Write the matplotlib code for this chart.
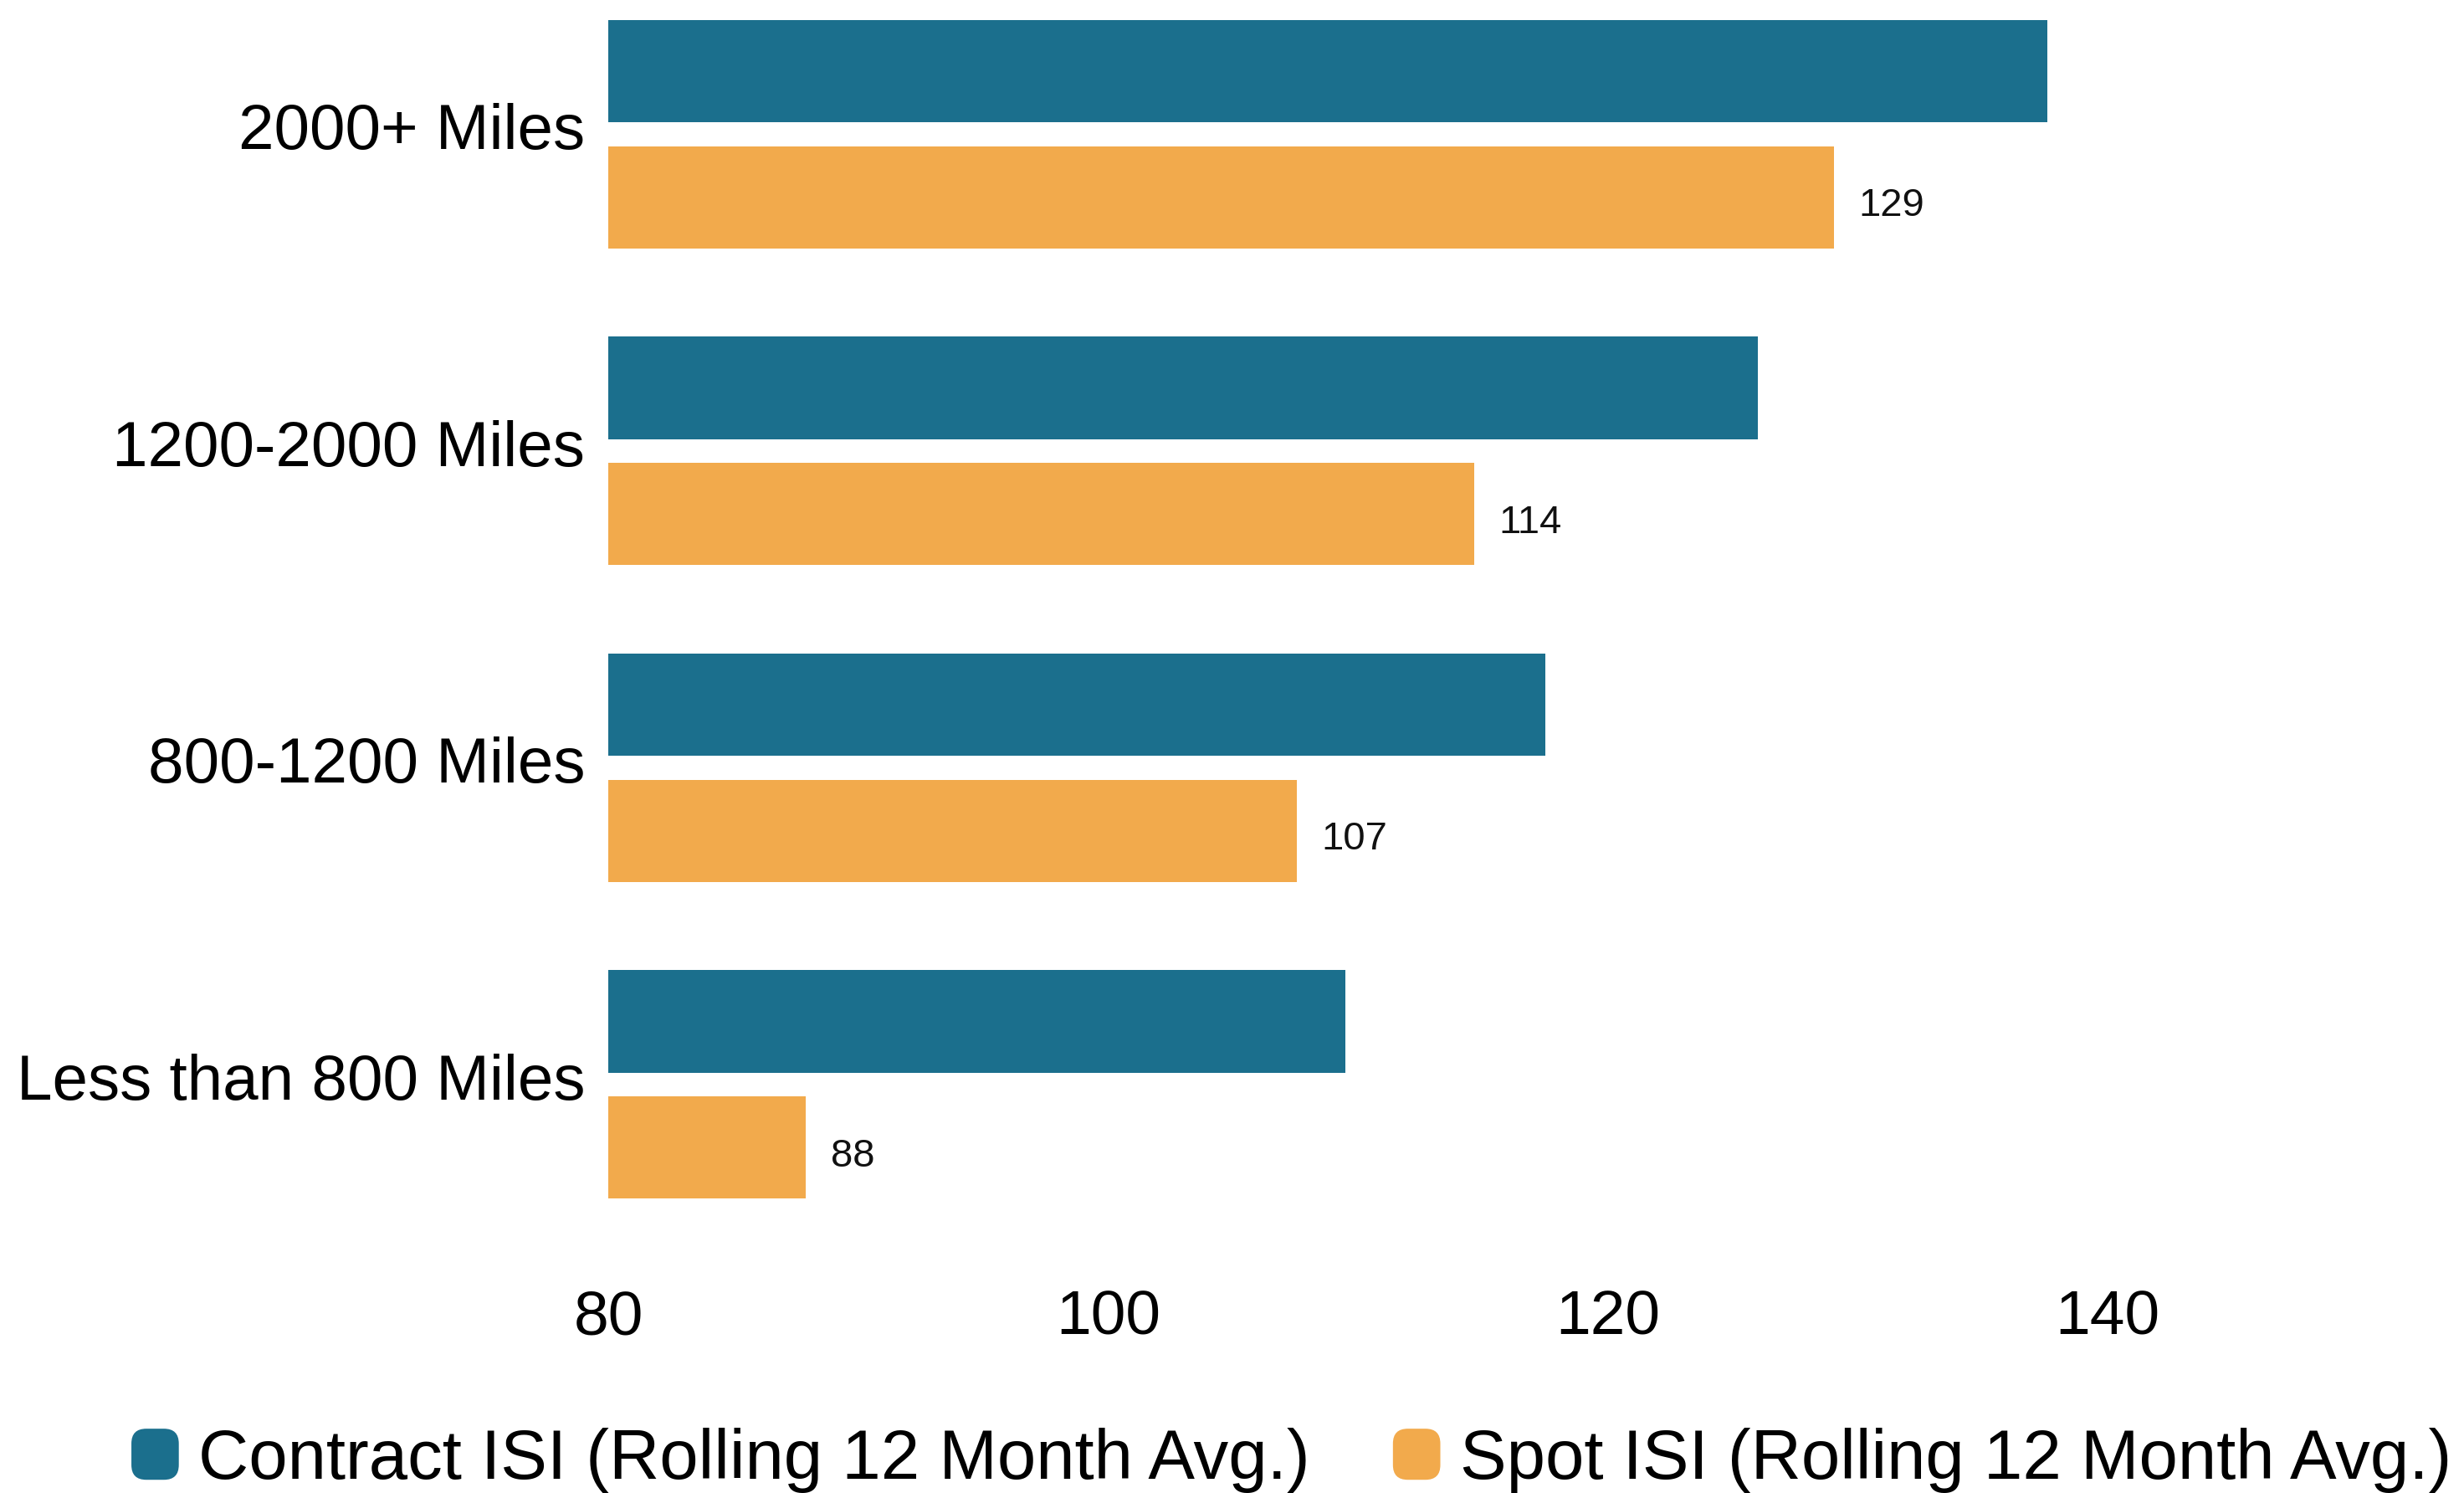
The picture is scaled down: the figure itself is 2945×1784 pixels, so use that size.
import numpy as np
import matplotlib
matplotlib.use("Agg")
from matplotlib import pyplot as plt
from matplotlib.patches import FancyBboxPatch, Patch
from matplotlib.legend_handler import HandlerPatch

plt.rcParams['font.family'] = ['Liberation Sans', 'DejaVu Sans']

# data
categories = ["2000+ Miles", "1200-2000 Miles", "800-1200 Miles", "Less than 800 Miles"]
contract_isi = [137.6, 126.0, 117.5, 109.5]
spot_isi = [129.05, 114.65, 107.55, 87.9]
spot_labels = ["129", "114", "107", "88"]
series_names = ["Contract ISI (Rolling 12 Month Avg.)", "Spot ISI (Rolling 12 Month Avg.)"]
x_ticks = [80, 100, 120, 140]

blue = "#1B6F8D"
orange = "#F2AA4C"


class RoundHandler(HandlerPatch):
    # rounded square legend swatch
    def create_artists(self, legend, orig_handle, xdescent, ydescent,
                       width, height, fontsize, trans):
        p = FancyBboxPatch((-xdescent + 0.1 * width, -ydescent), width * 0.8, height,
                           boxstyle="round,pad=0,rounding_size=%f" % (0.25 * width),
                           facecolor=orig_handle.get_facecolor(), edgecolor="none",
                           transform=trans)
        return [p]


fig = plt.figure(figsize=(29.45, 17.84), dpi=100)
ax = fig.add_axes([0.2469, 0.1676, 0.73, 0.8324])

y = np.arange(len(categories))
bar_h = 0.323
off = 0.199
ax.barh(y - off, contract_isi, height=bar_h, left=0, color=blue, label=series_names[0])
ax.barh(y + off, spot_isi, height=bar_h, left=0, color=orange, label=series_names[1])

for yi, v, lab in zip(y, spot_isi, spot_labels):
    ax.text(v + 1.0, yi + off + 0.028, lab, va="center", ha="left", fontsize=34, color="#111111")

ax.set_xlim(80, 152)
ax.set_ylim(3.5, -0.424)
ax.set_yticks(y - 0.025)
ax.set_yticklabels(categories, fontsize=55)
ax.set_xticks(x_ticks)
ax.set_xticklabels([str(t) for t in x_ticks], fontsize=54)
ax.tick_params(axis="both", length=0)
ax.tick_params(axis="x", pad=40)
ax.tick_params(axis="y", pad=20)
for s in ax.spines.values():
    s.set_visible(False)

handles = [Patch(facecolor=blue), Patch(facecolor=orange)]
fig.legend(handles, series_names, loc="center", bbox_to_anchor=(0.523, 0.022),
           ncol=2, frameon=False, fontsize=60, borderpad=0,
           handlelength=0.85, handleheight=0.75, handletextpad=0.2, columnspacing=1.1,
           handler_map={Patch: RoundHandler()})

fig.savefig("out.png", dpi=100)
